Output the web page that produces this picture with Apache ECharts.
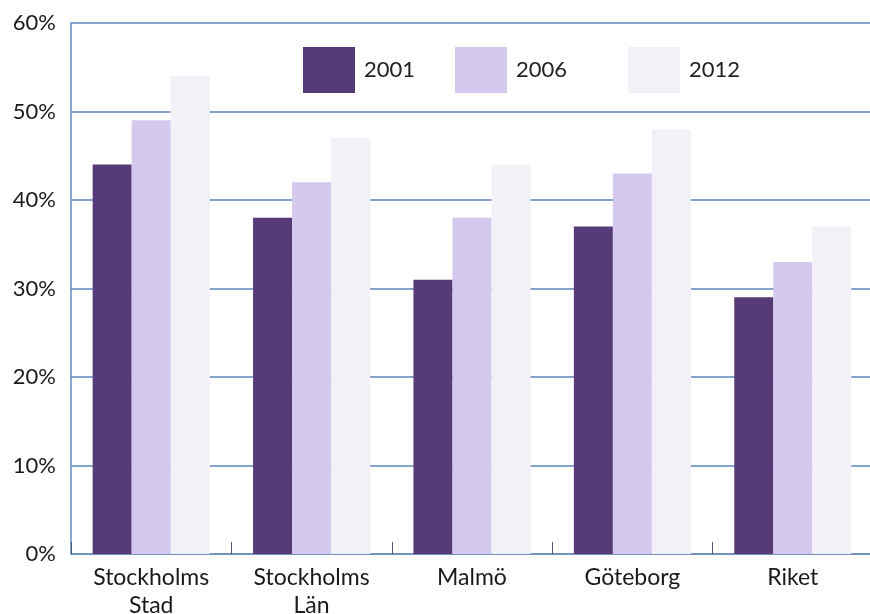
<!DOCTYPE html>
<html><head><meta charset="utf-8">
<script src="https://cdn.jsdelivr.net/npm/echarts@6/dist/echarts.min.js"></script>
<style>html,body{margin:0;padding:0;background:#fff}#c{width:870px;height:614px}</style>
</head><body><div id="c"></div>
<script>
const categories = ['Stockholms\nStad', 'Stockholms\nLän', 'Malmö', 'Göteborg', 'Riket'];
const seriesNames = ['2001', '2006', '2012'];
const v2001 = [44, 38, 31, 37, 29];
const v2006 = [49, 42, 38, 43, 33];
const v2012 = [54, 47, 44, 48, 37];
const yTicks = [0, 10, 20, 30, 40, 50, 60];

const colors = ['#573b78', '#d5c8ee', '#f3f1f8'];
const font = 'Lato';
const legendLefts = [303, 455, 628];
const chart = echarts.init(document.getElementById('c'));
chart.setOption({
  animation: false,
  textStyle: {fontFamily: font},
  legend: seriesNames.map((n, i) => ({
    top: 47, left: legendLefts[i], padding: 0,
    itemWidth: 52, itemHeight: 46,
    icon: 'rect',
    textStyle: {fontSize: 22, color: '#222', fontFamily: font, padding: [0,0,0,4]},
    data: [n]
  })),
  grid: {left: 71, right: -3, top: 23, bottom: 60, containLabel: false, outerBoundsMode: 'none'},
  xAxis: {
    type: 'category', data: categories,
    axisLine: {lineStyle: {color: '#6f8fb8', width: 1.5}},
    axisTick: {show: true, inside: true, length: 12, lineStyle: {color: '#555a70', width: 1}},
    axisLabel: {fontSize: 23, color: '#1a1a1a', lineHeight: 28, margin: 10, fontFamily: font}
  },
  yAxis: {
    type: 'value', min: yTicks[0], max: yTicks[yTicks.length-1], interval: 10,
    axisLine: {show: true, lineStyle: {color: '#5e8cc6', width: 1.5}},
    axisTick: {show: false},
    splitLine: {lineStyle: {color: '#5c86bb', width: 1.5}},
    axisLabel: {formatter: '{value}%', fontSize: 22, color: '#1a1a1a', margin: 15, fontFamily: font}
  },
  series: [
    {name: seriesNames[0], type: 'bar', data: v2001, itemStyle: {color: colors[0]}, barGap: '0%', barCategoryGap: '27%'},
    {name: seriesNames[1], type: 'bar', data: v2006, itemStyle: {color: colors[1]}},
    {name: seriesNames[2], type: 'bar', data: v2012, itemStyle: {color: colors[2]}}
  ]
});
</script></body></html>
